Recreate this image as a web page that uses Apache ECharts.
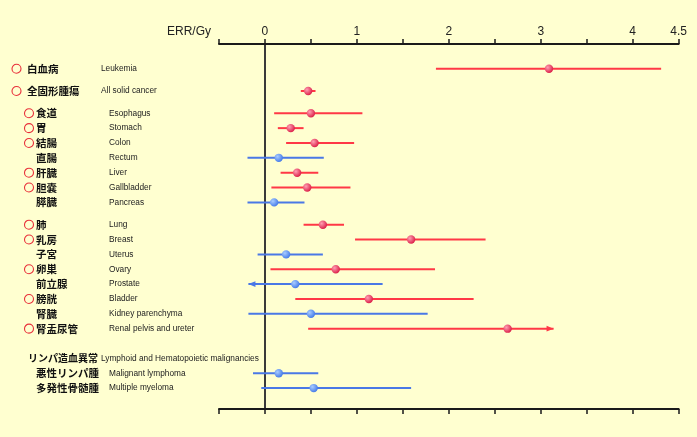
<!DOCTYPE html>
<html>
<head>
<meta charset="utf-8">
<script src="https://cdn.jsdelivr.net/npm/echarts@6/dist/echarts.min.js"></script>
<style>
html,body{margin:0;padding:0;background:#ffffd0;}
#main{width:697px;height:437px;}
</style>
</head>
<body>
<div id="main"></div>
<script>
// y slots (blank entries are spacing between groups)
const categories = ['Leukemia','','','All solid cancer','','','Esophagus','','Stomach','','Colon','','Rectum','','Liver','','Gallbladder','','Pancreas','','','Lung','','Breast','','Uterus','','Ovary','','Prostate','','Bladder','','Kidney parenchyma','','Renal pelvis and ureter','','','','Lymphoid and Hematopoietic malignancies','','Malignant lymphoma','','Multiple myeloma'];

const labelEN = ['Leukemia','All solid cancer','Esophagus','Stomach','Colon','Rectum','Liver','Gallbladder','Pancreas','Lung','Breast','Uterus','Ovary','Prostate','Bladder','Kidney parenchyma','Renal pelvis and ureter','Lymphoid and Hematopoietic malignancies','Malignant lymphoma','Multiple myeloma'];
const labelJP = ['白血病','全固形腫瘍','食道','胃','結腸','直腸','肝臓','胆嚢','膵臓','肺','乳房','子宮','卵巣','前立腺','膀胱','腎臓','腎盂尿管','リンパ造血異常','悪性リンパ腫','多発性骨髄腫'];
const labelKind = ['top','top','sub','sub','sub','sub','sub','sub','sub','sub','sub','sub','sub','sub','sub','sub','sub','head','sub','sub'];
const marked = [1,1,1,1,1,0,1,1,0,1,1,0,1,0,1,0,1,0,0,0];

const seriesNames = ['Leukemia','All solid cancer','Esophagus','Stomach','Colon','Rectum','Liver','Gallbladder','Pancreas','Lung','Breast','Uterus','Ovary','Prostate','Bladder','Kidney parenchyma','Renal pelvis and ureter','Malignant lymphoma','Multiple myeloma'];
const estimate = [3.09,0.47,0.50,0.28,0.54,0.15,0.35,0.46,0.10,0.63,1.59,0.23,0.77,0.33,1.13,0.50,2.64,0.15,0.53];
const lower    = [1.86,0.39,0.10,0.14,0.23,-0.19,0.17,0.07,-0.19,0.42,0.98,-0.08,0.06,-0.18,0.33,-0.18,0.47,-0.13,-0.04];
const upper    = [4.31,0.55,1.06,0.42,0.97,0.64,0.58,0.93,0.43,0.86,2.40,0.63,1.85,1.28,2.27,1.77,3.14,0.58,1.59];
const significant = [1,1,1,1,1,0,1,1,0,1,1,0,1,0,1,0,1,0,0];
const arrowLeft  = [0,0,0,0,0,0,0,0,0,0,0,0,0,1,0,0,0,0,0];
const arrowRight = [0,0,0,0,0,0,0,0,0,0,0,0,0,0,0,0,1,0,0];

const tickLabels = ['0','1','2','3','4','4.5'];

const seriesData = seriesNames.map((n,i)=>[categories.indexOf(n), estimate[i], lower[i], upper[i], significant[i], arrowLeft[i], arrowRight[i]]);

const chart = echarts.init(document.getElementById('main'));
const AX = '#1a1a1a';
const redGrad = () => new echarts.graphic.RadialGradient(0.35,0.35,0.75,[{offset:0,color:'#ff9fb2'},{offset:1,color:'#d8123e'}]);
const blueGrad = () => new echarts.graphic.RadialGradient(0.35,0.35,0.75,[{offset:0,color:'#a8ccff'},{offset:1,color:'#3a72e6'}]);

function fmtLabel(v){
  const i = labelEN.indexOf(v);
  if (i < 0) return '';
  const k = labelKind[i], m = marked[i];
  if (k === 'top') return '{p0| }{c| }{g0| }{j0|' + labelJP[i] + '}{e|' + v + '}';
  if (k === 'head') return '{p3| }{jh|' + labelJP[i] + '}{e|' + v + '}';
  if (m) return '{p1| }{c| }{g1| }{j1|' + labelJP[i] + '}{e|' + v + '}';
  return '{p2| }{j1|' + labelJP[i] + '}{e|' + v + '}';
}

const JP = {fontFamily:'Noto Sans CJK JP', fontSize:10.5, fontWeight:'bold', color:'#111'};

chart.setOption({
  backgroundColor:'#ffffd0',
  animation:false,
  title:{text:'ERR/Gy', left:162, top:21, textStyle:{fontFamily:'Liberation Sans, Arial', fontSize:12, fontWeight:'normal', color:'#222'}},
  grid:[
    {left:219, right:18.4, top:44, bottom:28},
    {left:219, right:18.4, top:65, bottom:45.2}
  ],
  xAxis:[
    {type:'value', gridIndex:0, position:'top', min:-0.5, max:4.5, interval:0.5,
     axisLine:{show:true, onZero:false, lineStyle:{color:AX, width:2}},
     axisTick:{show:true, length:5, lineStyle:{color:AX, width:1.5}},
     axisLabel:{margin:6, fontFamily:'Liberation Sans, Arial', fontSize:12, color:'#222',
       formatter:v=>{const s=String(Math.round(v*10)/10); return tickLabels.indexOf(s)>=0?s:'';}},
     splitLine:{show:false}},
    {type:'value', gridIndex:0, position:'bottom', min:-0.5, max:4.5, interval:0.5,
     axisLine:{show:true, onZero:false, lineStyle:{color:AX, width:2}},
     axisTick:{show:true, length:5, lineStyle:{color:AX, width:1.5}},
     axisLabel:{show:false}, splitLine:{show:false}},
    {type:'value', gridIndex:1, min:-0.5, max:4.5, show:false}
  ],
  yAxis:[
    {type:'value', gridIndex:0, min:0, max:1,
     axisLine:{show:true, onZero:true, onZeroAxisIndex:0, lineStyle:{color:'#3a3a3a', width:2}},
     axisTick:{show:false}, axisLabel:{show:false}, splitLine:{show:false}},
    {type:'category', gridIndex:1, inverse:true, data:categories,
     axisLine:{show:false}, axisTick:{show:false}, splitLine:{show:false},
     axisLabel:{interval:0, align:'left', margin:208, formatter:fmtLabel,
       fontFamily:'Liberation Sans, Arial', fontSize:8.3, color:'#222',
       rich:{
         c:{width:9, height:9, fontSize:6, borderColor:'#e8303a', borderWidth:1.1, borderRadius:5, verticalAlign:'middle'},
         j0:Object.assign({width:74}, JP),
         j1:Object.assign({width:73}, JP),
         jh:Object.assign({width:73}, JP, {fontSize:10}),
         p0:{width:1}, g0:{width:6},
         p1:{width:13.5}, g1:{width:2.5},
         p2:{width:25}, p3:{width:17},
         e:{fontFamily:'Liberation Sans, Arial', fontSize:8.3, color:'#222'}
       }}}
  ],
  series:[{
    type:'custom', xAxisIndex:2, yAxisIndex:1,
    data:seriesData,
    encode:{x:[1,2,3], y:0},
    renderItem:function(params, api){
      const y = api.value(0);
      const pE = api.coord([api.value(1), y]);
      const pL = api.coord([api.value(2), y]);
      const pH = api.coord([api.value(3), y]);
      const sig = api.value(4);
      const col = sig ? '#ff3846' : '#4a78e6';
      const children = [
        {type:'line', shape:{x1:pL[0], y1:pL[1], x2:pH[0], y2:pH[1]}, style:{stroke:col, lineWidth:2}}
      ];
      if (api.value(5)) children.push({type:'polygon', shape:{points:[[pL[0],pL[1]],[pL[0]+7,pL[1]-2.8],[pL[0]+7,pL[1]+2.8]]}, style:{fill:col}});
      if (api.value(6)) children.push({type:'polygon', shape:{points:[[pH[0],pH[1]],[pH[0]-7,pH[1]-2.8],[pH[0]-7,pH[1]+2.8]]}, style:{fill:col}});
      children.push({type:'circle', shape:{cx:pE[0], cy:pE[1], r:4.2}, style:{fill: sig ? redGrad() : blueGrad()}});
      return {type:'group', children:children};
    }
  }]
});
</script>
</body>
</html>
